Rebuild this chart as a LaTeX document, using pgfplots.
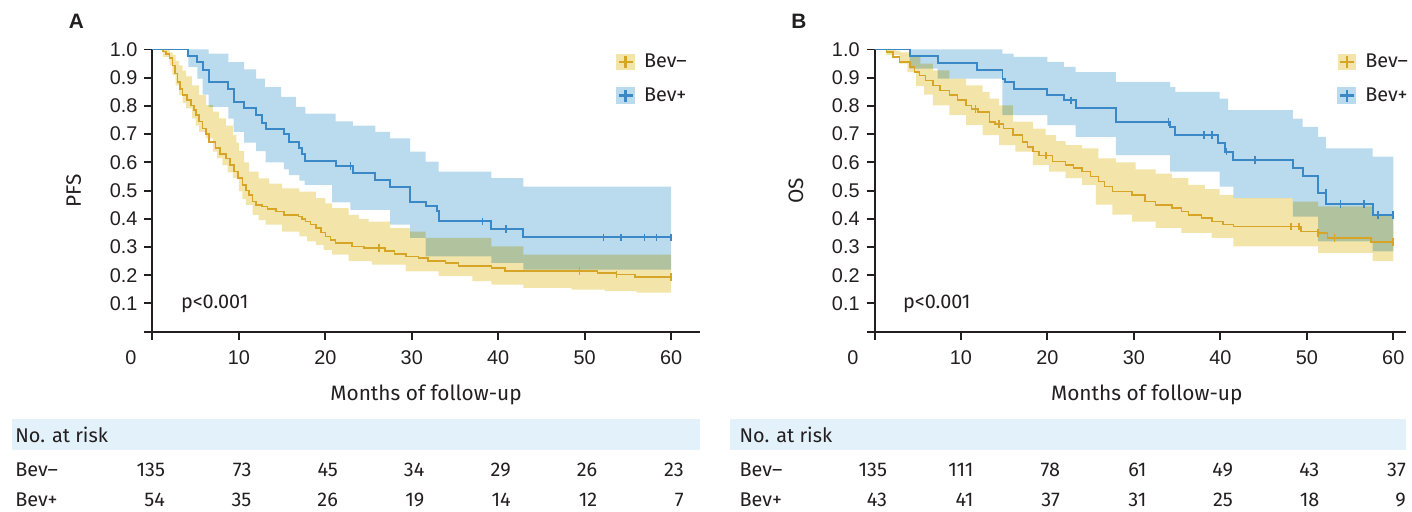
\documentclass[border=0pt]{standalone}
\usepackage{fontspec}
\setmainfont{Fira Sans}[Numbers={Proportional,Lining}]
\newfontfamily\arialfont{Liberation Sans}
\usepackage{pgfplots}
\pgfplotsset{compat=1.18}
\usepgfplotslibrary{fillbetween}

\definecolor{ylin}{RGB}{214,165,40}
\definecolor{yband}{RGB}{243,229,170}
\definecolor{blin}{RGB}{58,137,198}
\definecolor{bband}{RGB}{186,218,238}
\definecolor{riskbg}{RGB}{226,241,250}
\definecolor{txt}{RGB}{35,31,32}

\newcommand\tabfont{\fontsize{10}{12}\selectfont}
\newcommand\risk[3]{\node[anchor=east, font=\tabfont, text=txt, inner sep=0pt] at ([xshift=6.5bp]axis cs:#1,#2) {#3};}

\pgfplotsset{
  km/.style={
    x=4.34bp, y=141.65bp, xmin=0, ymin=0, ymax=1,
    axis lines=left, axis line style={-, line width=1bp, color=txt},
    tick align=outside, major tick length=4bp,
    tick style={line width=1bp, color=txt},
    xtick={0,10,20,30,40,50,60}, xticklabels={,10,20,30,40,50,60},
    ytick={0,0.1,0.2,0.3,0.4,0.5,0.6,0.7,0.8,0.9,1},
    yticklabels={,0.1,0.2,0.3,0.4,0.5,0.6,0.7,0.8,0.9,1.0},
    tick label style={font=\arialfont\fontsize{10}{12}\selectfont, text=txt},
    xticklabel style={yshift=-2bp},
    every axis y label/.style={at={(axis description cs:0,0.5)}, xshift=-39.5bp,
      rotate=90, anchor=center, font=\fontsize{10.5}{12}\selectfont, text=txt},
    clip=false,
    legend cell align=left,
    legend style={anchor=north west, draw=none, fill=none, inner sep=0pt,
      font=\fontsize{10}{12}\selectfont, text=txt, row sep=4.5bp,
      /tikz/every odd column/.style={column sep=2.5bp}},
  },
  kmband/.style={const plot, draw=none, forget plot},
  ylegend/.style={legend image code/.code={
    \fill[yband] (0bp,-3.75bp) rectangle (8.5bp,3.75bp);
    \draw[ylin, line width=1.3bp] (0.8bp,0bp) -- (7.7bp,0bp) (4.25bp,-3bp) -- (4.25bp,3bp);}},
  blegend/.style={legend image code/.code={
    \fill[bband] (0bp,-3.75bp) rectangle (8.5bp,3.75bp);
    \draw[blin, line width=1.3bp] (0.8bp,0bp) -- (7.7bp,0bp) (4.25bp,-3bp) -- (4.25bp,3bp);}},
  cens/.style={only marks, mark=|, mark size=1.9bp, mark options={line width=0.8bp}, forget plot},
}

\begin{document}
\begin{tikzpicture}

% ---------------- A: PFS ----------------
\begin{axis}[km, at={(0bp,0bp)}, xmax=63.3,
  ylabel={PFS},
  xlabel={Months of follow-up},
  every axis x label/.style={at={(axis description cs:0.5,0)}, yshift=-31.5bp,
    anchor=center, font=\fontsize{10.5}{12}\selectfont, text=txt},
  legend style={at={(axis cs:53.6,1.0)}}]

\addplot[kmband, name path=ayu] coordinates {(0,1)(2.0,0.99)(2.34,0.98)(2.7,0.96)(3.1,0.944)(3.5,0.925)(3.9,0.905)(4.6,0.873)(5.4,0.838)(6.2,0.803)(7.0,0.78)(7.7,0.756)(8.5,0.73)(9.3,0.697)(9.7,0.67)(10.0,0.64)(10.6,0.60)(11.2,0.567)(12.3,0.543)(13.5,0.525)(15.0,0.508)(17.0,0.496)(18.9,0.473)(20.0,0.455)(20.8,0.438)(22.7,0.414)(23.9,0.40)(25.0,0.39)(27.5,0.367)(29.8,0.355)(31.6,0.332)(39.2,0.302)(42.9,0.273)(60,0.273)};
\addplot[kmband, name path=ayl] coordinates {(0,1)(1.2,0.974)(2.0,0.944)(2.3,0.909)(2.7,0.873)(3.1,0.838)(3.5,0.81)(3.9,0.791)(4.6,0.756)(5.0,0.73)(5.4,0.708)(6.2,0.685)(7.0,0.638)(7.5,0.615)(8.1,0.59)(8.7,0.565)(9.3,0.544)(10.0,0.497)(10.4,0.47)(10.8,0.449)(11.6,0.414)(12.3,0.395)(13.1,0.379)(15.0,0.355)(17.0,0.338)(17.9,0.32)(18.9,0.308)(19.8,0.29)(20.8,0.273)(22.7,0.25)(25.4,0.238)(29.3,0.214)(33.1,0.197)(37.0,0.179)(39.2,0.167)(42.9,0.155)(48.5,0.149)(52.3,0.144)(56,0.138)(60,0.138)};
\addplot[fill=yband, draw=none, forget plot] fill between[of=ayu and ayl];

\addplot[kmband, name path=abu] coordinates {(0,1)(6.5,0.985)(8.8,0.955)(10.6,0.93)(12.0,0.897)(13.0,0.867)(14.9,0.832)(16.6,0.797)(17.7,0.773)(21.2,0.745)(23.2,0.73)(25.8,0.708)(27.5,0.685)(29.8,0.638)(31.6,0.603)(33.1,0.567)(39.2,0.544)(42.9,0.514)(60,0.514)};
\addplot[kmband, name path=abl] coordinates {(0,1)(4.15,0.938)(5.2,0.897)(5.8,0.84)(6.5,0.797)(8.8,0.755)(9.4,0.708)(10.6,0.67)(12.0,0.64)(13.1,0.60)(15.2,0.575)(15.8,0.555)(17.0,0.535)(17.6,0.52)(20.8,0.458)(22.9,0.432)(27.5,0.379)(29.8,0.332)(31.6,0.267)(39.2,0.244)(42.9,0.22)(60,0.22)};
\addplot[fill=bband, draw=none, forget plot, blend mode=multiply] fill between[of=abu and abl];

\addplot[ylin, line width=0.8bp, const plot, ylegend] coordinates {(0,1)(1.2,0.993)(1.57,0.985)(2.0,0.97)(2.34,0.944)(2.6,0.915)(2.92,0.885)(3.2,0.86)(3.5,0.838)(4.0,0.82)(4.46,0.802)(4.8,0.785)(5.04,0.767)(5.4,0.745)(5.8,0.72)(6.2,0.70)(6.57,0.673)(7.3,0.65)(7.8,0.63)(8.5,0.614)(9.0,0.59)(9.45,0.567)(9.9,0.545)(10.4,0.52)(10.8,0.50)(11.2,0.485)(11.6,0.461)(11.96,0.449)(12.7,0.444)(13.3,0.435)(14.3,0.426)(15.2,0.414)(16.9,0.408)(17.3,0.40)(17.7,0.391)(18.3,0.38)(18.9,0.367)(19.5,0.352)(20.0,0.338)(20.6,0.325)(21.2,0.314)(23.1,0.302)(24.5,0.296)(26.9,0.285)(28.0,0.276)(29.3,0.267)(30.8,0.261)(31.9,0.25)(33.9,0.244)(35.4,0.232)(39.2,0.226)(40.8,0.216)(51.5,0.208)(53.7,0.202)(55.8,0.194)(60,0.194)};
\addlegendentry{Bev–}
\addplot[blin, line width=1bp, const plot, blegend] coordinates {(0,1)(4.15,0.978)(5.2,0.955)(5.8,0.928)(6.5,0.885)(8.8,0.861)(9.4,0.814)(10.6,0.791)(12.0,0.767)(12.7,0.741)(13.1,0.72)(15.2,0.699)(15.8,0.673)(17.0,0.652)(17.3,0.628)(17.6,0.605)(21.2,0.587)(23.2,0.561)(25.8,0.536)(27.5,0.513)(29.8,0.461)(31.7,0.444)(32.9,0.426)(33.1,0.391)(39.2,0.364)(42.9,0.334)(60,0.334)};
\addlegendentry{Bev+}
\addplot[ylin, cens] coordinates {(26.2,0.296)(49.4,0.216)(53.7,0.202)(60,0.194)};
\addplot[blin, cens] coordinates {(22.9,0.587)(38.2,0.391)(40.9,0.364)(52.2,0.334)(54.2,0.334)(56.9,0.334)(58.3,0.334)(60,0.334)};

\node[anchor=west, font=\fontsize{10}{12}\selectfont, text=txt] at (axis cs:2.5,0.1) {p<0.001};
\node[font=\arialfont\fontsize{10}{12}\selectfont, text=txt] at (axis cs:-2.5,-0.092) {0};
\node[font=\arialfont\bfseries\fontsize{10.5}{12}\selectfont, text=txt] at (axis cs:-8.8,1.101) {A};

% number at risk
\fill[riskbg] (axis cs:-16.26,-0.311) rectangle (axis cs:63.3,-0.42);
\node[anchor=west, font=\tabfont, text=txt, inner sep=0pt] at (axis cs:-15.9,-0.364) {No. at risk};
\node[anchor=west, font=\tabfont, text=txt, inner sep=0pt] at (axis cs:-15.9,-0.491) {Bev–};
\node[anchor=west, font=\tabfont, text=txt, inner sep=0pt] at (axis cs:-15.9,-0.595) {Bev+};
\risk{0}{-0.491}{135}\risk{10}{-0.491}{73}\risk{20}{-0.491}{45}\risk{30}{-0.491}{34}\risk{40}{-0.491}{29}\risk{50}{-0.491}{26}\risk{60}{-0.491}{23}
\risk{0}{-0.595}{54}\risk{10}{-0.595}{35}\risk{20}{-0.595}{26}\risk{30}{-0.595}{19}\risk{40}{-0.595}{14}\risk{50}{-0.595}{12}\risk{60}{-0.595}{7}
\end{axis}

% ---------------- B: OS ----------------
\begin{axis}[km, at={(362.5bp,0bp)}, xmax=61.5,
  ylabel={OS},
  xlabel={Months of follow-up},
  every axis x label/.style={at={(axis description cs:0.512,0)}, yshift=-31.5bp,
    anchor=center, font=\fontsize{10.5}{12}\selectfont, text=txt},
  legend style={at={(axis cs:53.5,1.0)}}]

\addplot[kmband, name path=byu] coordinates {(0,1)(2.5,0.995)(3.0,0.99)(4.07,0.974)(5.3,0.95)(6.75,0.926)(8.67,0.897)(10.6,0.873)(12.5,0.85)(13.3,0.826)(14.4,0.802)(16.0,0.744)(18.3,0.72)(19.8,0.697)(21.0,0.675)(22.1,0.661)(24.0,0.65)(25.9,0.614)(27.9,0.60)(30.2,0.575)(32.5,0.56)(34.4,0.544)(36.3,0.52)(38.2,0.505)(39.9,0.485)(41.5,0.473)(48.4,0.461)(51.3,0.444)(57.6,0.414)(60,0.414)};
\addplot[kmband, name path=byl] coordinates {(0,1)(1.38,0.98)(2.9,0.95)(3.8,0.92)(4.8,0.87)(5.7,0.84)(6.75,0.802)(8.67,0.767)(10.6,0.732)(12.5,0.697)(14.4,0.661)(16.3,0.638)(18.3,0.591)(20.2,0.567)(22.1,0.544)(24.0,0.52)(25.6,0.45)(27.5,0.415)(29.8,0.39)(32.5,0.368)(35.5,0.35)(39.0,0.332)(41.5,0.302)(51.3,0.279)(57.6,0.25)(60,0.25)};
\addplot[fill=yband, draw=none, forget plot] fill between[of=byu and byl];

\addplot[kmband, name path=bbu] coordinates {(0,1)(14.8,0.985)(16.1,0.974)(20.0,0.956)(21.9,0.938)(23.25,0.92)(27.9,0.885)(34.2,0.867)(34.8,0.85)(39.9,0.826)(40.9,0.785)(48.4,0.755)(49.5,0.726)(51.3,0.69)(52.2,0.65)(57.6,0.62)(60,0.62)};
\addplot[kmband, name path=bbl] coordinates {(0,1)(4.07,0.932)(7.3,0.897)(14.8,0.767)(20.0,0.732)(23.25,0.69)(27.9,0.626)(34.2,0.567)(39.9,0.514)(41.5,0.473)(48.4,0.408)(51.3,0.32)(57.6,0.285)(60,0.285)};
\addplot[fill=bband, draw=none, forget plot, blend mode=multiply] fill between[of=bbu and bbl];

\addplot[ylin, line width=0.8bp, const plot, ylegend] coordinates {(0,1)(1.38,0.991)(2.15,0.973)(2.9,0.955)(4.07,0.938)(4.6,0.92)(5.2,0.908)(5.9,0.89)(6.75,0.873)(7.6,0.855)(8.67,0.838)(9.6,0.82)(10.6,0.802)(11.2,0.79)(12.0,0.779)(13.3,0.744)(13.9,0.735)(14.9,0.72)(16.0,0.697)(17.1,0.673)(17.7,0.655)(18.3,0.638)(19.0,0.625)(20.6,0.603)(22.1,0.591)(23.0,0.58)(24.0,0.567)(25.0,0.55)(25.9,0.532)(26.6,0.515)(27.5,0.497)(29.8,0.485)(31.3,0.461)(32.5,0.449)(34.4,0.438)(35.5,0.426)(36.3,0.414)(37.8,0.402)(39.0,0.391)(40.3,0.38)(41.5,0.373)(49.3,0.355)(51.3,0.35)(52.4,0.332)(57.4,0.318)(60,0.318)};
\addlegendentry{Bev–}
\addplot[blin, line width=1bp, const plot, blegend] coordinates {(0,1)(4.07,0.978)(7.3,0.953)(11.9,0.929)(14.8,0.897)(15.1,0.885)(16.1,0.861)(20.0,0.838)(21.9,0.82)(23.25,0.791)(27.9,0.744)(34.2,0.726)(34.8,0.697)(39.75,0.667)(40.5,0.638)(41.5,0.608)(48.4,0.579)(49.5,0.55)(51.3,0.491)(52.2,0.452)(57.6,0.414)(60,0.414)};
\addlegendentry{Bev+}
\addplot[ylin, cens] coordinates {(11.7,0.79)(14.4,0.735)(19.8,0.625)(48.2,0.373)(49.1,0.373)(51.3,0.35)(53.2,0.332)(60,0.318)};
\addplot[blin, cens] coordinates {(22.7,0.82)(34.0,0.744)(38.1,0.697)(39.0,0.697)(40.7,0.638)(44.0,0.608)(52.2,0.491)(53.9,0.452)(56.6,0.452)(58.2,0.414)(60,0.414)};

\node[anchor=west, font=\fontsize{10}{12}\selectfont, text=txt] at (axis cs:2.5,0.1) {p<0.001};
\node[font=\arialfont\fontsize{10}{12}\selectfont, text=txt] at (axis cs:-2.5,-0.092) {0};
\node[font=\arialfont\bfseries\fontsize{10.5}{12}\selectfont, text=txt] at (axis cs:-8.75,1.101) {B};

\fill[riskbg] (axis cs:-16.7,-0.311) rectangle (axis cs:61.5,-0.42);
\node[anchor=west, font=\tabfont, text=txt, inner sep=0pt] at (axis cs:-15.65,-0.364) {No. at risk};
\node[anchor=west, font=\tabfont, text=txt, inner sep=0pt] at (axis cs:-15.65,-0.491) {Bev–};
\node[anchor=west, font=\tabfont, text=txt, inner sep=0pt] at (axis cs:-15.65,-0.595) {Bev+};
\risk{0}{-0.491}{135}\risk{10}{-0.491}{111}\risk{20}{-0.491}{78}\risk{30}{-0.491}{61}\risk{40}{-0.491}{49}\risk{50}{-0.491}{43}\risk{60}{-0.491}{37}
\risk{0}{-0.595}{43}\risk{10}{-0.595}{41}\risk{20}{-0.595}{37}\risk{30}{-0.595}{31}\risk{40}{-0.595}{25}\risk{50}{-0.595}{18}\risk{60}{-0.595}{9}
\end{axis}

\path (-76.5bp,-90.5bp) rectangle (629.5bp,166.5bp);
\end{tikzpicture}
\end{document}
